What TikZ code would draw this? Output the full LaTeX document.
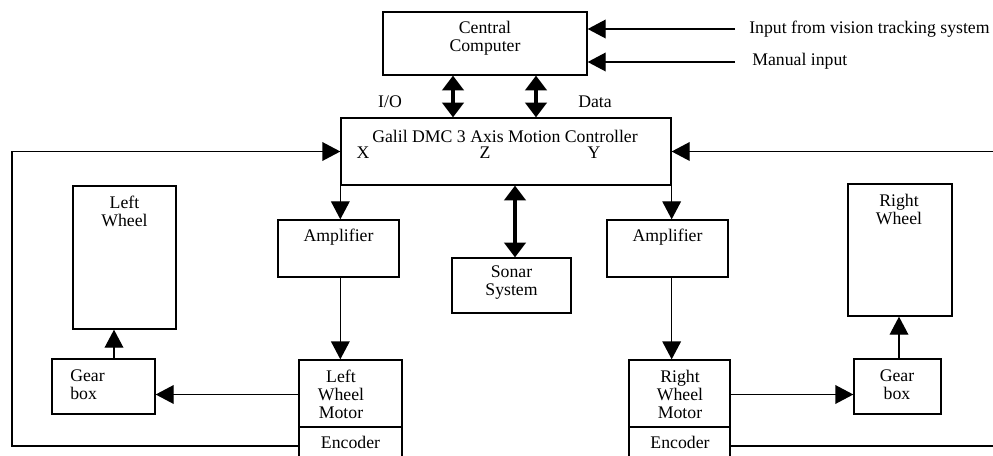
\documentclass[tikz,border=0pt]{standalone}
\usepackage{fontspec}
\setmainfont{Liberation Serif}
\usetikzlibrary{arrows.meta}
\tikzset{
  box/.style={draw, line width=1pt, inner sep=0pt},
  txt/.style={font=\fontsize{13.3pt}{13.5pt}\selectfont, inner sep=0pt, align=center},
  arr/.style={line width=1pt, -{Triangle[length=13.5pt,width=14pt]}},
  dbl/.style={line width=2.3pt, {Triangle[length=11pt,width=16pt]}-{Triangle[length=11pt,width=16pt]}},
}
\begin{document}
\begin{tikzpicture}[x=0.75pt, y=-0.75pt]
\clip (0,0) rectangle (993,456);
\fill[white] (0,0) rectangle (993,456);
% boxes
\node[box, minimum width=153pt, minimum height=47.25pt] (cc) at (485,43.5) {};
\node[box, minimum width=247.5pt, minimum height=50.25pt] (galil) at (506,151.5) {};
\node[box, minimum width=77.25pt, minimum height=107.25pt] (lwheel) at (124.5,257.5) {};
\node[box, minimum width=77.25pt, minimum height=41.25pt] (lgear) at (103.5,386.5) {};
\node[box, minimum width=90.75pt, minimum height=42.75pt] (lamp) at (338.5,248.5) {};
\node[box, minimum width=77.25pt, minimum height=50.25pt] (lmotor) at (350.5,393.5) {};
\node[box, minimum width=77.25pt, minimum height=32.25pt] (lenc) at (350.5,448.5) {};
\node[box, minimum width=89.25pt, minimum height=41.25pt] (sonar) at (511.5,285.5) {};
\node[box, minimum width=90.75pt, minimum height=42.75pt] (ramp) at (667.5,248.5) {};
\node[box, minimum width=75.75pt, minimum height=50.25pt] (rmotor) at (679.5,393.5) {};
\node[box, minimum width=75.75pt, minimum height=32.25pt] (renc) at (679.5,448.5) {};
\node[box, minimum width=65.25pt, minimum height=41.25pt] (rgear) at (897.5,386.5) {};
\node[box, minimum width=78pt, minimum height=99pt] (rwheel) at (900,250) {};
% texts
\node[txt] (tcc) at (485,38) {Central\\Computer};
\node[txt, anchor=west] (tin1) at (749,29) {Input from vision tracking system};
\node[txt, anchor=west] (tin2) at (752,61) {Manual input};
\node[txt] (tio) at (390,102) {I/O};
\node[txt] (tdata) at (595,102) {Data};
\node[txt] (tgal) at (505,136) {Galil DMC 3 Axis Motion Controller};
\node[txt] (tx) at (363,153) {X};
\node[txt] (tz) at (485,153) {Z};
\node[txt] (ty) at (594,153) {Y};
\node[txt] (tlw) at (124.5,211.5) {Left\\Wheel};
\node[txt, anchor=west, align=left] (tlg) at (70,384.5) {Gear\\box};
\node[txt] (tla) at (338.5,237) {Amplifier};
\node[txt] (tlm) at (341,394.5) {Left\\Wheel\\Motor};
\node[txt] (tle) at (350.5,442.5) {Encoder};
\node[txt] (tson) at (511.5,283) {Sonar\\System};
\node[txt] (tra) at (667.5,237) {Amplifier};
\node[txt] (trm) at (680,394) {Right\\Wheel\\Motor};
\node[txt] (tre) at (680,442) {Encoder};
\node[txt] (trg) at (897,384.5) {Gear\\box};
\node[txt] (trw) at (899,209.5) {Right\\Wheel};
% helper coordinates
\coordinate (in1) at (735,29);
\coordinate (in2) at (735,62);
\coordinate (io) at (453,0);
\coordinate (da) at (536,0);
\coordinate (so) at (515,0);
\coordinate (lg) at (114,0);
\coordinate (rg) at (899,0);
\coordinate (lc) at (12,446);
\coordinate (rc) at (1010,446);
\coordinate (my) at (0,394.5);
% connectors
\draw[arr] (in1) -- (in1 -| cc.east);
\draw[arr] (in2) -- (in2 -| cc.east);
\draw[dbl] (cc.south -| io) -- (galil.north -| io);
\draw[dbl] (cc.south -| da) -- (galil.north -| da);
\draw[dbl] (galil.south -| so) -- (sonar.north -| so);
\draw[arr] (galil.south west) -- (galil.south west |- lamp.north);
\draw[arr] (lamp.south -| galil.west) -- (lmotor.north -| galil.west);
\draw[arr] (lmotor.west |- my) -- (lgear.east |- my);
\draw[arr] (lgear.north -| lg) -- (lwheel.south -| lg);
\draw[arr] (galil.south east) -- (galil.south east |- ramp.north);
\draw[arr] (ramp.south -| galil.east) -- (rmotor.north -| galil.east);
\draw[arr] (rmotor.east |- my) -- (rgear.west |- my);
\draw[arr] (rgear.north -| rg) -- (rwheel.south -| rg);
\draw[arr] (lenc.west |- lc) -- (lc) |- (galil.west);
\draw[arr] (renc.east |- rc) -- (rc) |- (galil.east);
\end{tikzpicture}
\end{document}
